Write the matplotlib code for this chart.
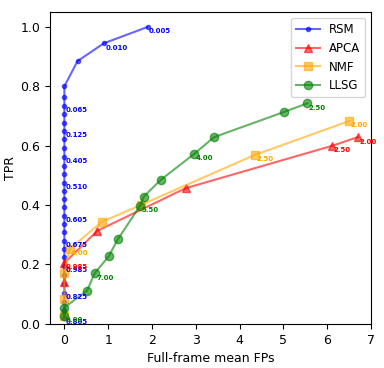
import matplotlib
matplotlib.use("Agg")
import matplotlib.pyplot as plt

# RSM
rsm_x = [0, 0, 0, 0, 0, 0, 0, 0, 0, 0, 0, 0, 0, 0, 0, 0, 0, 0, 0, 0, 0, 0, 0, 0, 0, 0, 0, 0, 0.3, 0.9, 1.9]
rsm_y = [0.02, 0.047, 0.075, 0.104, 0.134, 0.165, 0.195, 0.224, 0.252, 0.28, 0.308, 0.336, 0.364,
         0.392, 0.42, 0.447, 0.475, 0.504, 0.533, 0.562, 0.592, 0.621, 0.65, 0.678, 0.707, 0.735,
         0.764, 0.80, 0.885, 0.945, 1.0]
rsm_labels = ["0.805", "", "", "0.825", "", "", "0.985", "", "", "0.675", "", "", "0.605",
              "", "", "", "0.510", "", "", "0.405", "", "", "0.125", "", "", "0.065",
              "", "", "", "0.010", "0.005"]

# APCA
apca_x = [0, 0, 0.75, 2.77, 6.12, 6.7]
apca_y = [0.142, 0.205, 0.313, 0.457, 0.60, 0.629]
apca_labels = ["", "0.985", "", "", "2.50", "2.00"]

# NMF
nmf_x = [0, 0, 0, 0.12, 0.85, 1.74, 4.35, 6.5]
nmf_y = [0.027, 0.085, 0.17, 0.252, 0.343, 0.40, 0.569, 0.683]
nmf_labels = ["", "", "", "4.00", "", "", "2.50", "2.00"]

# LLSG
llsg_x = [0, 0, 0.52, 0.69, 1.01, 1.22, 1.73, 1.81, 2.2, 2.96, 3.42, 5.02, 5.55]
llsg_y = [0.027, 0.055, 0.112, 0.17, 0.227, 0.285, 0.398, 0.428, 0.485, 0.572, 0.629, 0.714, 0.743]
llsg_labels = ["9.00", "", "", "7.00", "", "", "5.50", "", "", "4.00", "", "", "2.50"]

fig = plt.figure(figsize=(3.84, 3.68), dpi=100)
ax = fig.add_axes([0.130, 0.12, 0.836, 0.847])

series = [
    ("RSM", rsm_x, rsm_y, rsm_labels, "blue", ".", 6),
    ("APCA", apca_x, apca_y, apca_labels, "red", "^", 6),
    ("NMF", nmf_x, nmf_y, nmf_labels, "orange", "s", 6),
    ("LLSG", llsg_x, llsg_y, llsg_labels, "green", "o", 6),
]
for name, xs, ys, labs, col, mk, ms in series:
    ax.plot(xs, ys, marker=mk, color=col, alpha=0.6, lw=1.5, ms=ms, label=name)
for name, xs, ys, labs, col, mk, ms in series:
    for x, y, t in zip(xs, ys, labs):
        if t:
            ax.annotate(t, (x, y), xytext=(1, -1), textcoords="offset points",
                        color=col, fontsize=5, fontweight="bold", ha="left", va="top")

ax.set_xlim(-0.33, 7.0)
ax.set_ylim(0, 1.05)
ax.set_xticks(range(0, 8))
ax.set_yticks([0.0, 0.2, 0.4, 0.6, 0.8, 1.0])
ax.set_xlabel("Full-frame mean FPs", fontsize=9)
ax.set_ylabel("TPR", fontsize=9, labelpad=2)
ax.tick_params(labelsize=9)
ax.legend(loc="upper right", fontsize=8.5)
fig.savefig("out.png", dpi=100)
